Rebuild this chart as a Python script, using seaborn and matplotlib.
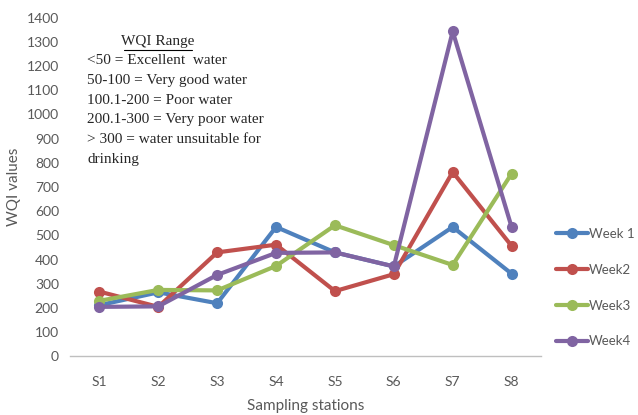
import numpy as np
import pandas as pd
import matplotlib
matplotlib.use("Agg")
import matplotlib.pyplot as plt
import seaborn as sns

stations = ["S1", "S2", "S3", "S4", "S5", "S6", "S7", "S8"]
week1 = [212, 265, 220, 535, 430, 372, 535, 342]
week2 = [268, 205, 430, 462, 270, 340, 762, 457]
week3 = [230, 275, 273, 374, 542, 460, 378, 755]
week4 = [205, 207, 337, 428, 430, 372, 1343, 535]
week_names = ["Week 1", "Week2", "Week3", "Week4"]
colors = ["#4F81BD", "#C0504D", "#9BBB59", "#8064A2"]

range_title = "WQI Range"
range_lines = ["<50 = Excellent  water",
               "50-100 = Very good water",
               "100.1-200 = Poor water",
               "200.1-300 = Very poor water",
               "> 300 = water unsuitable for",
               "drinking"]

df = pd.DataFrame({
    "station": stations * 4,
    "wqi": week1 + week2 + week3 + week4,
    "week": np.repeat(week_names, len(stations)),
})

sns.set_style("white")
plt.rcParams["font.family"] = ["Lato", "DejaVu Sans"]

fig = plt.figure(figsize=(6.38, 4.15), dpi=100)
ax = fig.add_axes([0.1097, 0.141, 0.7383, 0.8166])

sns.lineplot(data=df, x="station", y="wqi", hue="week", palette=colors,
             marker="o", markersize=8, markeredgewidth=0, linewidth=3,
             sort=False, ax=ax)

ax.set_xlim(-0.5, 7.5)
ax.set_ylim(0, 1400)
ax.set_yticks(range(0, 1401, 100))
ax.set_xticks(np.arange(-0.5, 8, 1), minor=True)
ax.tick_params(axis="x", which="major", length=0, pad=14, labelsize=10, labelcolor="#595959")
ax.tick_params(axis="x", which="minor", length=5, color="#BFBFBF", width=1)
ax.tick_params(axis="y", length=0, pad=8, labelsize=10, labelcolor="#595959")
for s in ["top", "right", "left"]:
    ax.spines[s].set_visible(False)
ax.spines["bottom"].set_color("#BFBFBF")
ax.spines["bottom"].set_linewidth(1)

ax.set_xlabel("Sampling stations", fontsize=11, color="#595959", labelpad=8)
ax.set_ylabel("WQI values", fontsize=11, color="#595959", labelpad=4)

handles, labels = ax.get_legend_handles_labels()
fig.legend(handles, labels, loc="upper left", bbox_to_anchor=(556 / 638, 1 - 228 / 415),
           frameon=False, fontsize=9.5, labelcolor="#595959", borderpad=0, borderaxespad=0,
           handlelength=2.4, handletextpad=0.1, labelspacing=1.8)
ax.get_legend().remove()

fig.text(158 / 638, 1 - 42 / 415, range_title, fontsize=11, ha="center", va="center",
         family="Liberation Serif")
fig.add_artist(plt.Line2D([124 / 638, 192 / 638], [1 - 50 / 415, 1 - 50 / 415],
                          color="black", linewidth=0.8))
for i, line in enumerate(range_lines):
    fig.text(87 / 638, 1 - (61 + i * 19.6) / 415, line, fontsize=11, ha="left",
             va="center", family="Liberation Serif")

fig.savefig("out.png", dpi=100)
